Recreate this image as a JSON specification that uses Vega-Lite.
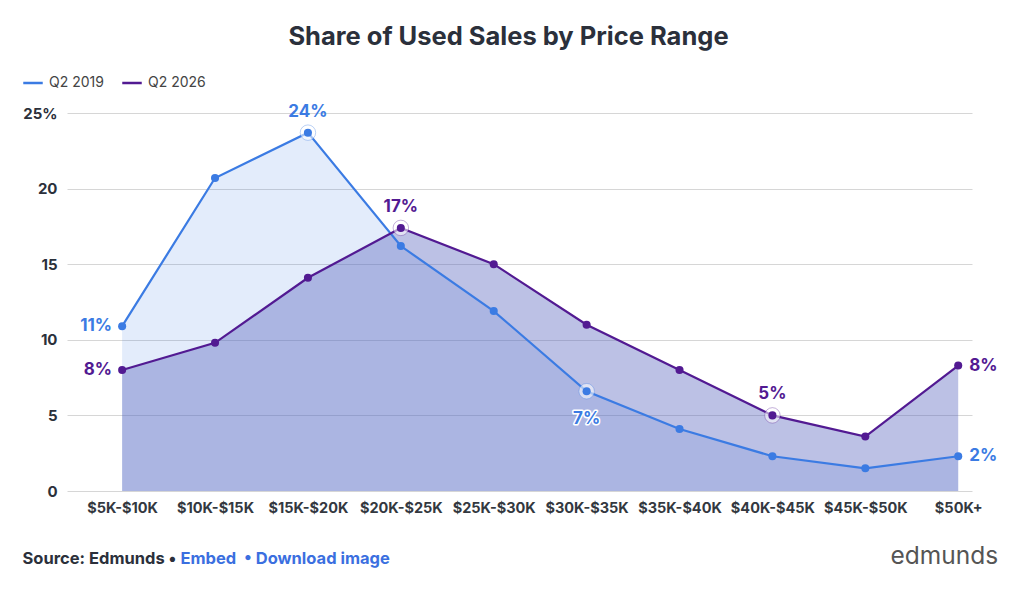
{
  "$schema": "https://vega.github.io/schema/vega-lite/v6.json",
  "width": 905,
  "height": 378,
  "autosize": {"type": "none"},
  "padding": {"left": 67, "top": 113, "right": 52, "bottom": 115},
  "background": "white",
  "title": {
    "text": "Share of Used Sales by Price Range",
    "frame": "group",
    "anchor": "middle",
    "dx": -11,
    "offset": 22,
    "font": "Inter",
    "fontSize": 25.5,
    "fontWeight": "bold",
    "color": "#2b303b"
  },
  "data": {
    "values": [
      {"range": "$5K-$10K", "series": "Q2 2019", "share": 10.9},
      {"range": "$10K-$15K", "series": "Q2 2019", "share": 20.7},
      {"range": "$15K-$20K", "series": "Q2 2019", "share": 23.7},
      {"range": "$20K-$25K", "series": "Q2 2019", "share": 16.2},
      {"range": "$25K-$30K", "series": "Q2 2019", "share": 11.9},
      {"range": "$30K-$35K", "series": "Q2 2019", "share": 6.6},
      {"range": "$35K-$40K", "series": "Q2 2019", "share": 4.1},
      {"range": "$40K-$45K", "series": "Q2 2019", "share": 2.3},
      {"range": "$45K-$50K", "series": "Q2 2019", "share": 1.5},
      {"range": "$50K+", "series": "Q2 2019", "share": 2.3},
      {"range": "$5K-$10K", "series": "Q2 2026", "share": 8.0},
      {"range": "$10K-$15K", "series": "Q2 2026", "share": 9.8},
      {"range": "$15K-$20K", "series": "Q2 2026", "share": 14.1},
      {"range": "$20K-$25K", "series": "Q2 2026", "share": 17.4},
      {"range": "$25K-$30K", "series": "Q2 2026", "share": 15.0},
      {"range": "$30K-$35K", "series": "Q2 2026", "share": 11.0},
      {"range": "$35K-$40K", "series": "Q2 2026", "share": 8.0},
      {"range": "$40K-$45K", "series": "Q2 2026", "share": 5.0},
      {"range": "$45K-$50K", "series": "Q2 2026", "share": 3.6},
      {"range": "$50K+", "series": "Q2 2026", "share": 8.3}
    ]
  },
  "transform": [
    {"calculate": "format(datum.share, '.0f') + '%'", "as": "label"}
  ],
  "layer": [
    {
      "encoding": {
        "x": {
          "field": "range",
          "type": "ordinal",
          "sort": null,
          "scale": {"type": "point", "padding": 0.371, "align": 0.8},
          "axis": {
            "labelAngle": 0,
            "labelFont": "Inter",
            "labelFontSize": 14.5,
            "labelFontWeight": "bold",
            "labelColor": "#333840",
            "labelPadding": 10,
            "ticks": false,
            "domain": false,
            "grid": false,
            "title": "Source: Edmunds •",
            "titleFont": "Inter",
            "titleFontSize": 16.5,
            "titleFontWeight": "bold",
            "titleColor": "#2b303b",
            "titleAlign": "left",
            "titleBaseline": "middle",
            "titleAnchor": "start",
            "titleX": -45,
            "titleY": 67
          }
        },
        "y": {
          "field": "share",
          "type": "quantitative",
          "scale": {"domain": [0, 25], "nice": false},
          "axis": {
            "values": [0, 5, 10, 15, 20, 25],
            "labelExpr": "datum.value == 25 ? '25%' : datum.label",
            "labelFont": "Inter",
            "labelFontSize": 15,
            "labelFontWeight": "bold",
            "labelColor": "#2b303b",
            "labelPadding": 10,
            "ticks": false,
            "domain": false,
            "grid": true,
            "gridColor": "#d6d6d6",
            "gridWidth": 1,
            "title": "edmunds",
            "titleFont": "Inter",
            "titleFontSize": 24.5,
            "titleFontWeight": "normal",
            "titleColor": "#555555",
            "titleAngle": 0,
            "titleAlign": "left",
            "titleBaseline": "middle",
            "titleX": 823,
            "titleY": 443
          }
        }
      },
      "layer": [
        {
          "transform": [{"filter": "datum.series == 'Q2 2019'"}],
          "mark": {"type": "area", "color": "#3b7be3", "opacity": 0.14}
        },
        {
          "transform": [{"filter": "datum.series == 'Q2 2026'"}],
          "mark": {"type": "area", "color": "#5764be", "opacity": 0.4}
        },
        {
          "mark": {"type": "line", "strokeWidth": 2.2},
          "encoding": {
            "color": {
              "field": "series",
              "type": "nominal",
              "scale": {"domain": ["Q2 2019", "Q2 2026"], "range": ["#3b7be3", "#521a92"]},
              "legend": {
                "orient": "none",
                "legendX": -45,
                "legendY": -41,
                "direction": "horizontal",
                "title": null,
                "symbolType": "stroke",
                "symbolSize": 380,
                "symbolStrokeWidth": 2.5,
                "symbolOpacity": 1,
                "labelFont": "Inter",
                "labelFontSize": 14,
                "labelColor": "#444444",
                "labelOffset": 5,
                "columnPadding": 13
              }
            }
          }
        },
        {
          "transform": [{"filter": "(datum.series == 'Q2 2019' && (datum.range == '$15K-$20K' || datum.range == '$30K-$35K')) || (datum.series == 'Q2 2026' && (datum.range == '$20K-$25K' || datum.range == '$40K-$45K'))"}],
          "mark": {"type": "point", "filled": false, "size": 240, "strokeWidth": 1, "strokeOpacity": 0.35, "fill": "white", "fillOpacity": 0.55},
          "encoding": {"color": {"field": "series", "type": "nominal"}}
        },
        {
          "mark": {"type": "circle", "size": 65, "opacity": 1},
          "encoding": {"color": {"field": "series", "type": "nominal"}}
        },
        {
          "transform": [{"filter": "datum.range == '$5K-$10K'"}],
          "mark": {"type": "text", "align": "right", "baseline": "middle", "dx": -10, "font": "Inter", "fontSize": 17, "fontWeight": "bold"},
          "encoding": {"text": {"field": "label"}, "color": {"field": "series", "type": "nominal"}}
        },
        {
          "transform": [{"filter": "datum.range == '$50K+'"}],
          "mark": {"type": "text", "align": "left", "baseline": "middle", "dx": 11, "font": "Inter", "fontSize": 17, "fontWeight": "bold"},
          "encoding": {"text": {"field": "label"}, "color": {"field": "series", "type": "nominal"}}
        },
        {
          "transform": [{"filter": "(datum.series == 'Q2 2019' && datum.range == '$15K-$20K') || (datum.series == 'Q2 2026' && (datum.range == '$20K-$25K' || datum.range == '$40K-$45K'))"}],
          "mark": {"type": "text", "align": "center", "baseline": "middle", "dy": -21, "font": "Inter", "fontSize": 17, "fontWeight": "bold"},
          "encoding": {"text": {"field": "label"}, "color": {"field": "series", "type": "nominal"}}
        },
        {
          "transform": [{"filter": "datum.series == 'Q2 2019' && datum.range == '$30K-$35K'"}],
          "mark": {"type": "text", "align": "center", "baseline": "middle", "dy": 28, "font": "Inter", "fontSize": 17, "fontWeight": "bold", "stroke": "white", "strokeWidth": 3, "strokeJoin": "round"},
          "encoding": {"text": {"field": "label"}}
        },
        {
          "transform": [{"filter": "datum.series == 'Q2 2019' && datum.range == '$30K-$35K'"}],
          "mark": {"type": "text", "align": "center", "baseline": "middle", "dy": 28, "font": "Inter", "fontSize": 17, "fontWeight": "bold"},
          "encoding": {"text": {"field": "label"}, "color": {"field": "series", "type": "nominal"}}
        }
      ]
    },
    {
      "transform": [{"filter": "datum.series == 'Q2 2019'"}],
      "mark": {"type": "point", "opacity": 0},
      "encoding": {
        "x": {
          "field": "range",
          "type": "ordinal",
          "sort": null,
          "scale": {"type": "point", "padding": 0.371, "align": 0.8},
          "axis": {
            "orient": "top",
            "labels": false,
            "ticks": false,
            "domain": false,
            "grid": false,
            "title": "Embed\u00a0\u00a0• Download image",
            "titleFont": "Inter",
            "titleFontSize": 16.5,
            "titleFontWeight": "bold",
            "titleColor": "#3b6fe0",
            "titleAlign": "left",
            "titleBaseline": "middle",
            "titleAnchor": "start",
            "titleX": 113,
            "titleY": 445
          }
        },
        "y": {"field": "share", "type": "quantitative", "scale": {"domain": [0, 25], "nice": false}}
      }
    }
  ],
  "resolve": {"scale": {"x": "independent"}},
  "config": {"view": {"stroke": null}}
}
